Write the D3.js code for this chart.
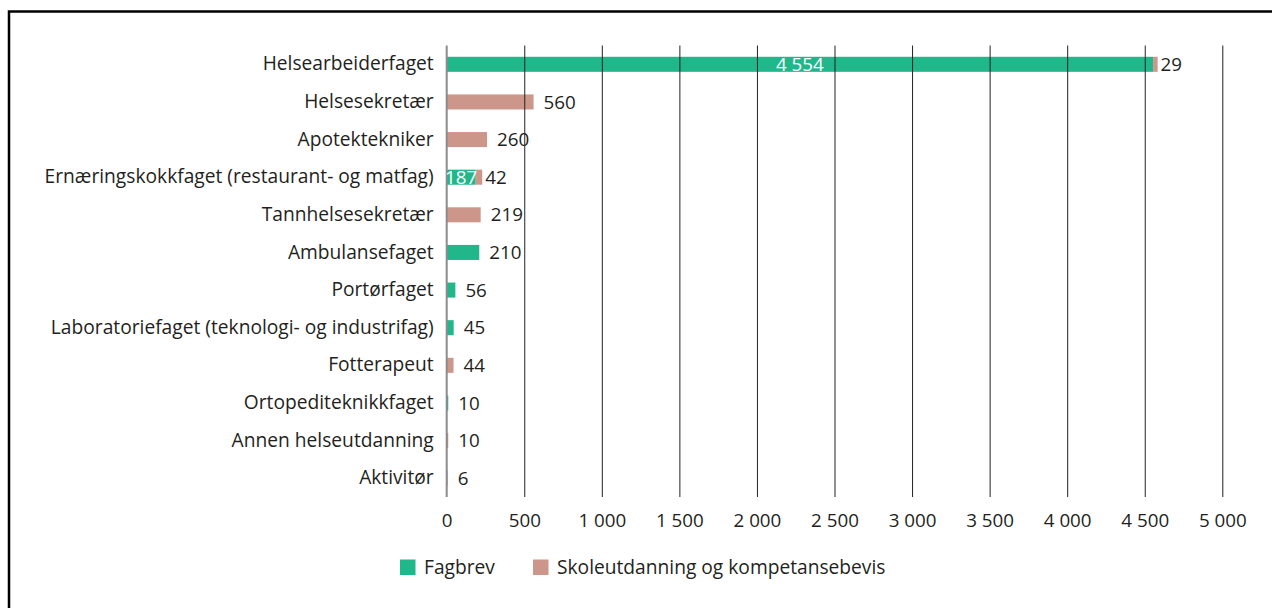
<!DOCTYPE html>
<html>
<head>
<meta charset="utf-8">
<script src="https://cdn.jsdelivr.net/npm/d3@7"></script>
<style>
  html, body { margin: 0; padding: 0; background: #fff; }
  svg { display: block; }
  text { font-family: "Open Sans", "Noto Sans", sans-serif; fill: #231f20; }
</style>
</head>
<body>
<svg id="chart" width="1272" height="608"></svg>
<script>
// Categories, top to bottom
const categories = [
  "Helsearbeiderfaget",
  "Helsesekretær",
  "Apotektekniker",
  "Ernæringskokkfaget (restaurant- og matfag)",
  "Tannhelsesekretær",
  "Ambulansefaget",
  "Portørfaget",
  "Laboratoriefaget (teknologi- og industrifag)",
  "Fotterapeut",
  "Ortopediteknikkfaget",
  "Annen helseutdanning",
  "Aktivitør"
];
// Fagbrev
const fagbrev = [4554, 0, 0, 187, 0, 210, 56, 45, 0, 10, 0, 0];
// Skoleutdanning og kompetansebevis
const skole = [29, 560, 260, 42, 219, 0, 0, 0, 44, 0, 10, 6];
const seriesNames = ["Fagbrev", "Skoleutdanning og kompetansebevis"];
const xTicks = [0, 500, 1000, 1500, 2000, 2500, 3000, 3500, 4000, 4500, 5000];

const colors = ["#22b68b", "#cd968a"];
const fmt = v => d3.format(",")(v).replace(/,/g, "\u00a0");
const FS = 18.8;   // values and axis
const FL = 19.2;   // category names and legend

const svg = d3.select("#chart");

// Outer frame (left and top edges)
svg.append("path")
  .attr("d", "M9,608 V11.5 H1272")
  .attr("fill", "none").attr("stroke", "#000").attr("stroke-width", 2.5);

const x = d3.scaleLinear().domain([0, 5000]).range([446.7, 1222.3]);
const y = d3.scaleBand().domain(categories).range([45.5, 497]).paddingInner(0.6).paddingOuter(0.3);

const rows = categories.map((c, i) => ({ cat: c, f: fagbrev[i], s: skole[i] }));

// Bars: Fagbrev first, then Skoleutdanning stacked after it
const g = svg.append("g");
rows.forEach(r => {
  if (r.f > 0) {
    g.append("rect")
      .attr("x", x(0)).attr("y", y(r.cat))
      .attr("width", x(r.f) - x(0)).attr("height", y.bandwidth())
      .attr("fill", colors[0]);
  }
  if (r.s > 0) {
    g.append("rect")
      .attr("x", x(r.f)).attr("y", y(r.cat))
      .attr("width", x(r.f + r.s) - x(r.f)).attr("height", y.bandwidth())
      .attr("fill", colors[1]);
  }
});

// Vertical gridlines drawn over the bars
const grid = svg.append("g")
  .attr("transform", `translate(0,${y.range()[1]})`)
  .call(d3.axisBottom(x).tickValues(xTicks.slice(1)).tickSize(y.range()[0] - y.range()[1]).tickFormat(""));
grid.select(".domain").remove();
grid.selectAll(".tick line").attr("stroke", "#222").attr("stroke-width", 1);

// Zero line
svg.append("line")
  .attr("x1", x(0)).attr("x2", x(0))
  .attr("y1", y.range()[0]).attr("y2", y.range()[1])
  .attr("stroke", "#8c8c8c").attr("stroke-width", 2);

// X axis tick labels
const xa = svg.append("g")
  .attr("transform", `translate(0,${y.range()[1]})`)
  .call(d3.axisBottom(x).tickValues(xTicks).tickSize(0).tickPadding(17).tickFormat(fmt));
xa.select(".domain").remove();
xa.selectAll("text").attr("font-size", FS).attr("font-family", null).style("fill", "#231f20");

// Category labels
const ya = svg.append("g")
  .attr("transform", `translate(${x(0)},0)`)
  .call(d3.axisLeft(y).tickSize(0).tickPadding(13));
ya.select(".domain").remove();
ya.selectAll("text").attr("font-size", FL).attr("font-family", null).style("fill", "#231f20");

// Value labels
const labels = svg.append("g").attr("font-size", FS);
rows.forEach(r => {
  const cy = y(r.cat) + y.bandwidth() / 2;
  if (r.f > 0 && r.s > 0) {
    // stacked row: Fagbrev value inside its segment, other value at the end
    labels.append("text")
      .attr("x", (x(0) + x(r.f)) / 2).attr("y", cy).attr("dy", "0.35em")
      .attr("text-anchor", "middle").style("fill", "#fff")
      .text(fmt(r.f));
    labels.append("text")
      .attr("x", x(r.f + r.s) + 3).attr("y", cy).attr("dy", "0.35em")
      .text(fmt(r.s));
  } else {
    const v = r.f + r.s;
    labels.append("text")
      .attr("x", x(v) + 10).attr("y", cy).attr("dy", "0.35em")
      .text(fmt(v));
  }
});

// Legend
const legend = svg.append("g").attr("transform", "translate(400,567)");
const lx = [0, 133];
seriesNames.forEach((n, i) => {
  legend.append("rect").attr("x", lx[i]).attr("y", -7.5).attr("width", 15.5).attr("height", 15.5).attr("fill", colors[i]);
  legend.append("text").attr("x", lx[i] + 24).attr("y", 0).attr("dy", "0.35em").attr("font-size", FL).text(n);
});
</script>
</body>
</html>
